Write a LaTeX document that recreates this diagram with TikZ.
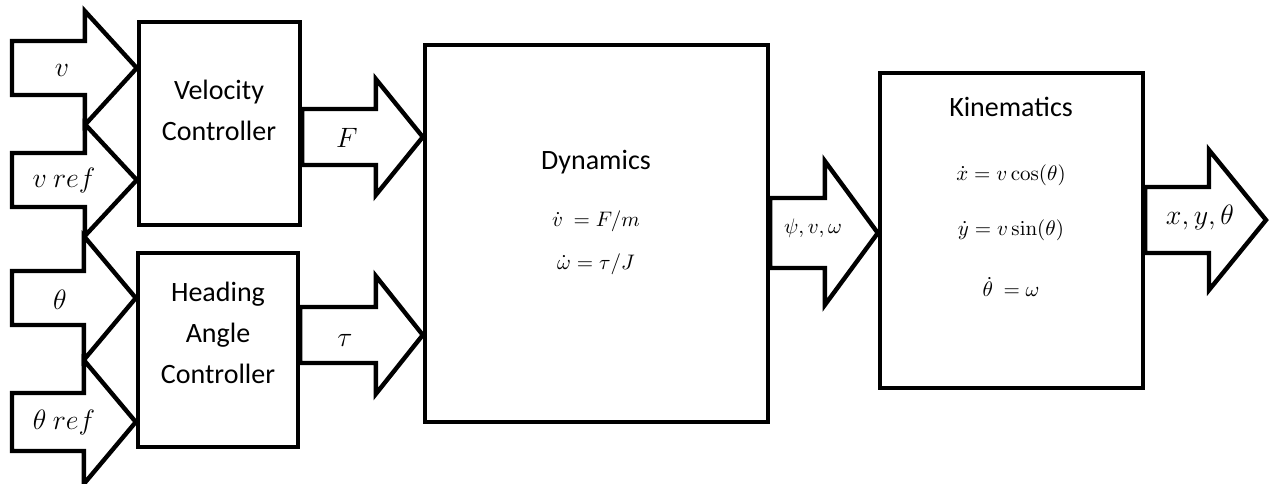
\RequirePackage{fix-cm}
\documentclass[tikz,border=0pt]{standalone}
\usepackage{amsmath, amssymb}
\usepackage[no-math]{fontspec}
\setmainfont{Carlito}
\usepackage{tikz}
\usetikzlibrary{
  calc,%
  positioning
}
\tikzset{>=latex}
\tikzset{block/.style={draw, line width=2.2pt, inner sep=0pt}}
\tikzset{fatarrow/.style={draw, line width=2.2pt, line join=miter}}
\tikzset{boxtext/.style={align=center, font=\fontsize{14}{20.5}\selectfont}}
\tikzset{eqtext/.style={font=\fontsize{10.5}{13}\selectfont}}
\tikzset{siglabel/.style={font=\fontsize{14}{16}\selectfont}}

% big open arrow: tail #1, tip #2, shaft half #3, head half #4, head length #5
\newcommand{\fatarrow}[5]{%
  \draw[fatarrow] ($(#1)+(0,-#3)$) -- ($(#2)+(-#5,-#3)$) -- ($(#2)+(-#5,-#4)$)
    -- (#2) -- ($(#2)+(-#5,#4)$) -- ($(#2)+(-#5,#3)$) -- ($(#1)+(0,#3)$) -- cycle;}

\begin{document}
\begin{tikzpicture}[x=0.5pt, y=-0.5pt]
  \useasboundingbox (0, 0) rectangle (1272, 483); %
  % blocks
  \node[block, minimum width=80.5pt, minimum height=101.5pt] (vel) at (219.5, 123.5) {}; %
  \node[block, minimum width=80pt, minimum height=97pt] (head) at (218, 350) {}; %
  \node[block, minimum width=171.5pt, minimum height=188.5pt] (dyn) at (596.5, 233.5) {}; %
  \node[block, minimum width=131.5pt, minimum height=157.5pt] (kin) at (1011.5, 230.5) {}; %
  % rows of the arrows
  \coordinate (rv) at (12, 68); %
  \coordinate (rvref) at (12, 180); %
  \coordinate (rth) at (12, 298); %
  \coordinate (rthref) at (12, 422); %
  \coordinate (rF) at (0, 137); \coordinate (rtau) at (0, 335); %
  \coordinate (rpsi) at (0, 233); \coordinate (rout) at (0, 220); %
  \coordinate (vtip) at (vel.west |- rv); %
  \coordinate (vreftip) at (vel.west |- rvref); %
  \coordinate (thtip) at (head.west |- rth); %
  \coordinate (threftip) at (head.west |- rthref); %
  \coordinate (Ftail) at (vel.east |- rF); \coordinate (Ftip) at (dyn.west |- rF); %
  \coordinate (tautail) at (head.east |- rtau); \coordinate (tautip) at (dyn.west |- rtau); %
  \coordinate (psitail) at (dyn.east |- rpsi); \coordinate (psitip) at (kin.west |- rpsi); %
  \coordinate (outtail) at (kin.east |- rout); \coordinate (outtip) at (1266, 220); %
  % arrows
  \fatarrow{rv}{vtip}{27}{57}{52}
  \fatarrow{rvref}{vreftip}{27}{56}{52}
  \fatarrow{rth}{thtip}{27}{62}{52}
  \fatarrow{rthref}{threftip}{29}{62}{52}
  \fatarrow{Ftail}{Ftip}{28}{58}{47}
  \fatarrow{tautail}{tautip}{28}{59}{47}
  \fatarrow{psitail}{psitip}{35}{72}{53}
  \fatarrow{outtail}{outtip}{33}{70}{57}
  % texts
  \node[boxtext] (veltext) at (219, 110) {Velocity\\Controller}; %
  \node[boxtext] (headtext) at (218, 333) {Heading\\Angle\\Controller}; %
  \node[boxtext] (dyntext) at (596, 162) {Dynamics}; %
  \node[eqtext] (dyneq1) at (596, 221) {$\dot{v}\ = F/m$}; %
  \node[eqtext] (dyneq2) at (596, 264) {$\dot{\omega} = \tau/J$}; %
  \node[boxtext] (kintext) at (1011, 107) {Kinematics}; %
  \node[eqtext] (kineq1) at (1011, 175) {$\dot{x} = v\cos(\theta)$}; %
  \node[eqtext] (kineq2) at (1011, 230) {$\dot{y} = v\sin(\theta)$}; %
  \node[eqtext] (kineq3) at (1011, 287) {$\dot{\theta}\ = \omega$}; %
  \node[siglabel] (lv) at (62, 70) {$v$}; %
  \node[siglabel] (lvref) at (64, 180) {$v\ ref$}; %
  \node[siglabel] (lth) at (60, 300) {$\theta$}; %
  \node[siglabel] (lthref) at (64, 422) {$\theta\ ref$}; %
  \node[siglabel] (lF) at (347, 138) {$F$}; %
  \node[siglabel] (ltau) at (345, 340) {$\tau$}; %
  \node[eqtext] (lpsi) at (813, 228) {$\psi, v, \omega$}; %
  \node[siglabel] (lout) at (1200, 217) {$x, y, \theta$}; %
\end{tikzpicture}
\end{document}
